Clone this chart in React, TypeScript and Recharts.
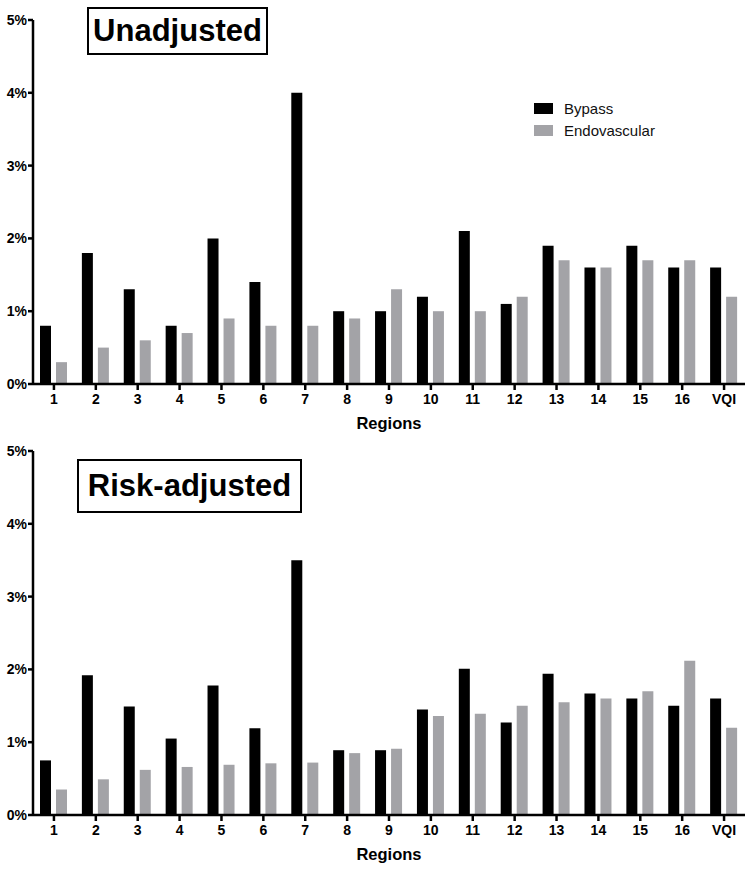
import { Bar, BarChart, Legend, XAxis, YAxis } from "recharts";

const regions = ["1", "2", "3", "4", "5", "6", "7", "8", "9", "10", "11", "12", "13", "14", "15", "16", "VQI"];

const unadjustedBypass = [0.8, 1.8, 1.3, 0.8, 2.0, 1.4, 4.0, 1.0, 1.0, 1.2, 2.1, 1.1, 1.9, 1.6, 1.9, 1.6, 1.6];
const unadjustedEndo = [0.3, 0.5, 0.6, 0.7, 0.9, 0.8, 0.8, 0.9, 1.3, 1.0, 1.0, 1.2, 1.7, 1.6, 1.7, 1.7, 1.2];

const adjustedBypass = [0.75, 1.92, 1.49, 1.05, 1.78, 1.19, 3.5, 0.89, 0.89, 1.45, 2.01, 1.27, 1.94, 1.67, 1.6, 1.5, 1.6];
const adjustedEndo = [0.35, 0.49, 0.62, 0.66, 0.69, 0.71, 0.72, 0.85, 0.91, 1.36, 1.39, 1.5, 1.55, 1.6, 1.7, 2.12, 1.2];

const yTicks = [0, 1, 2, 3, 4, 5];

const FONT = '"Liberation Sans", Arial, sans-serif';
const BLACK = "#000000";
const GREY = "#a3a3a7";

const buildRows = (bypass: number[], endo: number[]) =>
  regions.map((region, i) => ({ region, bypass: bypass[i], endo: endo[i] }));

function LegendBox(props: any) {
  const items = props.payload || [];
  return (
    <div style={{ fontFamily: FONT, fontSize: 15 }}>
      {items.map((item: any) => (
        <div key={item.value} style={{ display: "flex", alignItems: "center", height: 22 }}>
          <span style={{ width: 19, height: 11, background: item.color, marginRight: 11 }} />
          <span style={{ color: "#111" }}>{item.value}</span>
        </div>
      ))}
    </div>
  );
}

interface PanelProps {
  rows: { region: string; bypass: number; endo: number }[];
  height: number;
  top: number;
  bottom: number;
  showLegend?: boolean;
}

function Panel({ rows, height, top, bottom, showLegend }: PanelProps) {
  const tickStyle = { fill: BLACK, fontSize: 14, fontWeight: 700, fontFamily: FONT };
  return (
    <BarChart
      width={752}
      height={height}
      data={rows}
      margin={{ top, right: 7, left: 0, bottom }}
      barSize={11}
      barGap={5}
    >
      <XAxis
        dataKey="region"
        interval={0}
        height={30}
        tickSize={6}
        tickMargin={4}
        axisLine={{ stroke: BLACK, strokeWidth: 2.5 }}
        tickLine={{ stroke: BLACK, strokeWidth: 2.5 }}
        tick={tickStyle}
        label={{
          value: "Regions",
          position: "bottom",
          offset: 3,
          style: { fill: BLACK, fontSize: 16.5, fontWeight: 700, fontFamily: FONT },
        }}
      />
      <YAxis
        width={33}
        domain={[0, 5]}
        ticks={yTicks}
        tickSize={5}
        tickMargin={1}
        axisLine={{ stroke: BLACK, strokeWidth: 2.5 }}
        tickLine={{ stroke: BLACK, strokeWidth: 2.5 }}
        tick={tickStyle}
        tickFormatter={(v) => `${v}%`}
      />
      {showLegend && (
        <Legend
          layout="vertical"
          align="center"
          verticalAlign="middle"
          content={LegendBox}
          wrapperStyle={{ position: "absolute", left: 534, top: 97, width: 160 }}
        />
      )}
      <Bar dataKey="bypass" name="Bypass" fill={BLACK} isAnimationActive={false} />
      <Bar dataKey="endo" name="Endovascular" fill={GREY} isAnimationActive={false} />
    </BarChart>
  );
}

function TitleBox({ text, left, top, width, height }: { text: string; left: number; top: number; width: number; height: number }) {
  return (
    <div
      style={{
        position: "absolute",
        left,
        top,
        width,
        height,
        boxSizing: "border-box",
        border: "2.5px solid #000",
        background: "#fff",
        display: "flex",
        alignItems: "center",
        justifyContent: "center",
        fontFamily: FONT,
        fontWeight: 700,
        fontSize: 31,
        color: "#000",
      }}
    >
      {text}
    </div>
  );
}

export default function App() {
  return (
    <div style={{ position: "absolute", left: 0, top: 0, width: 752, height: 872, background: "#fff" }}>
      <div style={{ position: "absolute", left: 0, top: 0 }}>
        <Panel rows={buildRows(unadjustedBypass, unadjustedEndo)} height={440} top={20} bottom={26} showLegend />
      </div>
      <div style={{ position: "absolute", left: 0, top: 440 }}>
        <Panel rows={buildRows(adjustedBypass, adjustedEndo)} height={432} top={11} bottom={27} />
      </div>
      <TitleBox text="Unadjusted" left={87} top={7} width={181} height={48} />
      <TitleBox text="Risk-adjusted" left={77} top={459} width={225} height={54} />
    </div>
  );
}
